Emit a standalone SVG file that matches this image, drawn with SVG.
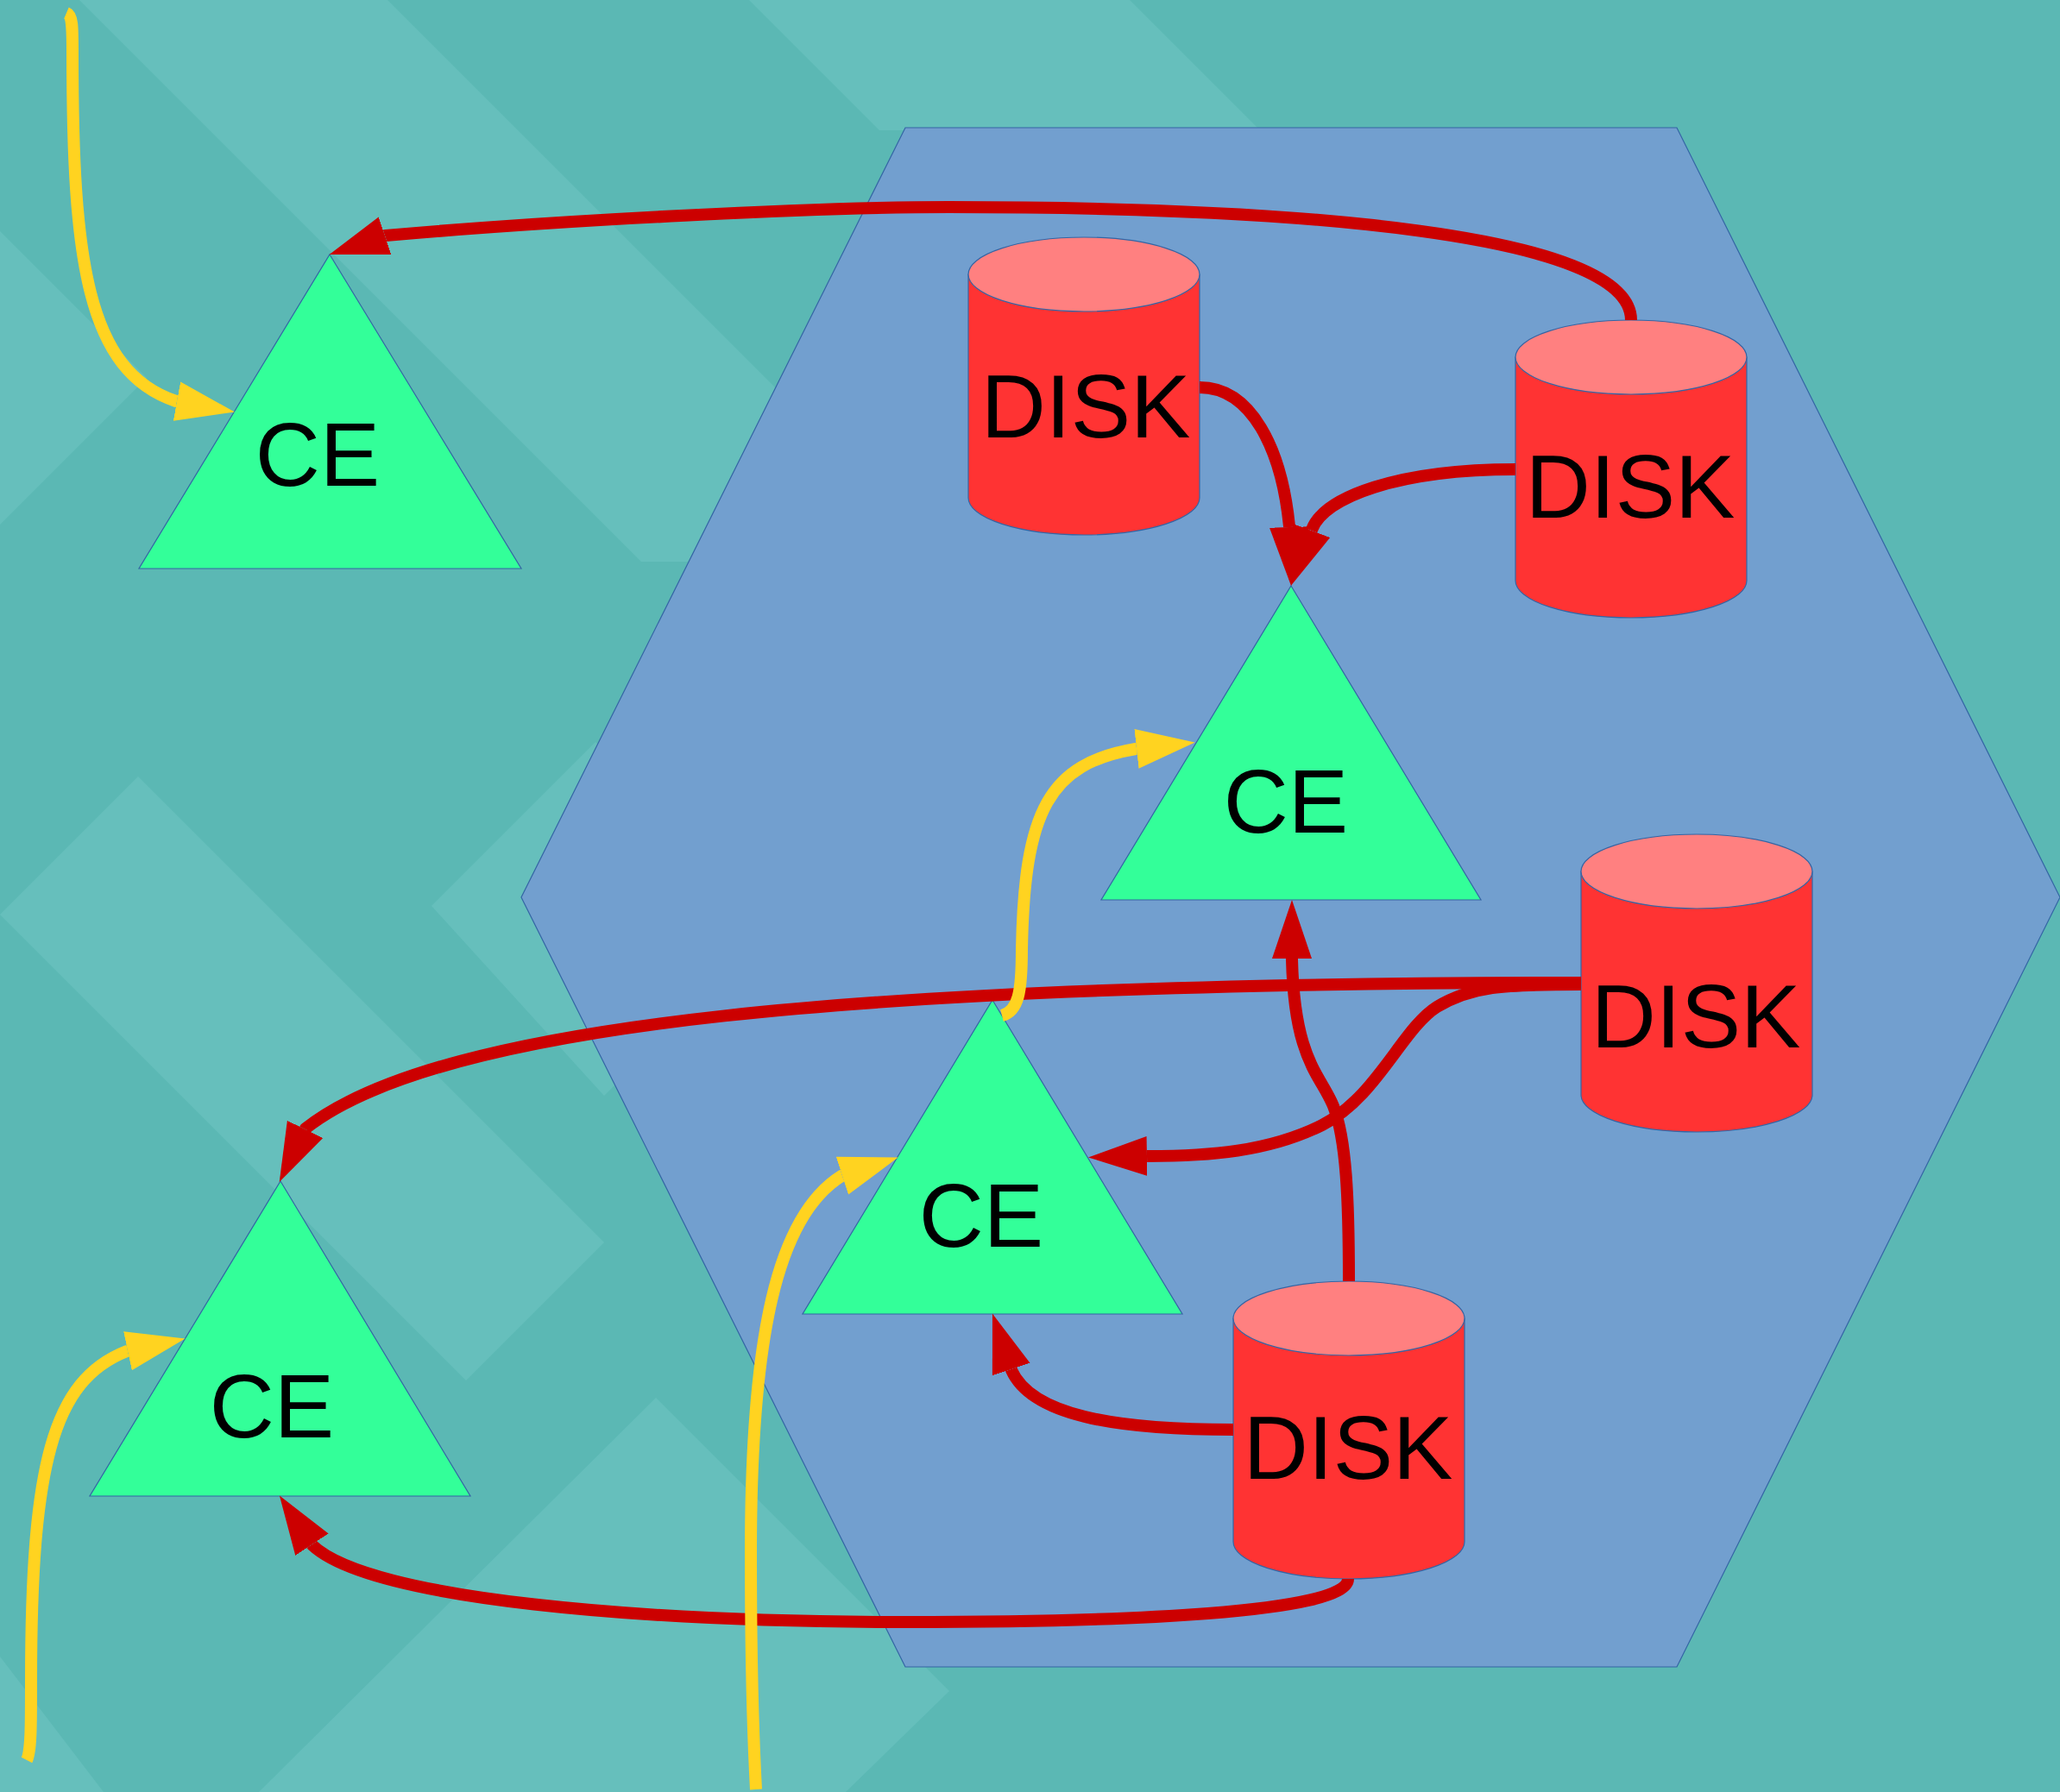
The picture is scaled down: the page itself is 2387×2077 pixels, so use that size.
<svg xmlns="http://www.w3.org/2000/svg" width="2387" height="2077" viewBox="0 0 2387 2077">
<style>
.bg{fill:#5bb8b4}
.bgl{fill:#66bfbc}
.hex{fill:#729fcf;stroke:#3465a4;stroke-width:1.2}
.ce{fill:#33ff99;stroke:#3465a4;stroke-width:1.2}
.body{fill:#ff3333;stroke:#3465a4;stroke-width:1.2}
.top{fill:#ff8080;stroke:#3465a4;stroke-width:1.2}
.lbl{font-family:"Liberation Sans",Arial,sans-serif;font-size:104px;fill:#000;text-anchor:middle}
.red{fill:none;stroke:#cc0000;stroke-width:14;stroke-linejoin:round;marker-end:url(#ar)}
.yel{fill:none;stroke:#ffd320;stroke-width:14;stroke-linejoin:round;marker-end:url(#ay)}
</style>
<defs>
<marker id="ar" markerUnits="userSpaceOnUse" viewBox="0 -25 70 50" refX="0" refY="0" markerWidth="70" markerHeight="50" orient="auto"><path d="M0,-23 L68,0 L0,23 Z" fill="#cc0000"/></marker>
<marker id="ay" markerUnits="userSpaceOnUse" viewBox="0 -25 70 50" refX="0" refY="0" markerWidth="70" markerHeight="50" orient="auto"><path d="M0,-23 L68,0 L0,23 Z" fill="#ffd320"/></marker>
</defs>
<g id="background">
<rect class="bg" x="0" y="0" width="2387" height="2077"/>
<polygon class="bgl" points="92,0 449,0 1100,651 743,651"/>
<polygon class="bgl" points="868,0 1309,0 1460,151 1019,151"/>
<polygon class="bgl" points="0,268 170,438 0,608"/>
<polygon class="bgl" points="0,1060 160,900 700,1440 540,1600"/>
<polygon class="bgl" points="0,1920 120,2077 0,2077"/>
<polygon class="bgl" points="300,2077 760,1620 1100,1960 980,2077"/>
<polygon class="bgl" points="500,1050 690,860 900,1070 700,1270"/>
</g>
<g id="zone"><polygon class="hex" points="1049,148 1943,148 2387,1040 1943,1932 1049,1932 604,1040"/></g>
<g id="ce1"><polygon class="ce" points="382,295 604,659 161,659"/><text class="lbl" x="368" y="563">CE</text></g>
<g id="ce2"><polygon class="ce" points="1496,679 1716,1043 1276,1043"/><text class="lbl" x="1490" y="965">CE</text></g>
<g id="ce3"><polygon class="ce" points="1150,1159 1370,1523 930,1523"/><text class="lbl" x="1137" y="1445">CE</text></g>
<g id="ce4"><polygon class="ce" points="325,1369 545,1734 104,1734"/><text class="lbl" x="315" y="1666">CE</text></g>
<g id="disk1"><path class="body" d="M1122,318 V577 A134,43 0 0 0 1390,577 V318 Z"/><ellipse class="top" cx="1256" cy="318" rx="134" ry="43"/><text class="lbl" x="1258" y="507">DISK</text></g>
<g id="disk2"><path class="body" d="M1756,414 V673 A134,43 0 0 0 2024,673 V414 Z"/><ellipse class="top" cx="1890" cy="414" rx="134" ry="43"/><text class="lbl" x="1889" y="600">DISK</text></g>
<g id="disk3"><path class="body" d="M1832,1010 V1269 A134,43 0 0 0 2100,1269 V1010 Z"/><ellipse class="top" cx="1966" cy="1010" rx="134" ry="43"/><text class="lbl" x="1965" y="1214">DISK</text></g>
<g id="disk4"><path class="body" d="M1429,1528 V1787 A134,43 0 0 0 1697,1787 V1528 Z"/><ellipse class="top" cx="1563" cy="1528" rx="134" ry="43"/><text class="lbl" x="1562" y="1714">DISK</text></g>
<g id="connectors">
<path class="red" d="M1890,371 C1890,270 1500,240 1100,240 C950,240 650,255 447,273 l-0.95,0.32"/>
<path class="red" d="M1390,449 C1450,449 1485,520 1494,610 l0.03,1"/>
<path class="red" d="M1756,544 C1620,544 1534,576 1520,614 l-0.35,0.94"/>
<path class="red" d="M1832,1139 C1000,1139 510,1185 354,1308 l-0.44,0.9"/>
<path class="red" d="M1832,1141 C1740,1141 1705,1143 1665,1167 C1625,1192 1595,1272 1532,1304 C1470,1335 1400,1340 1330,1340 l-1,0.02"/>
<path class="red" d="M1563,1485 C1563,1390 1560,1320 1545,1282 C1530,1245 1500,1230 1497,1112 l0,-1"/>
<path class="red" d="M1429,1657 C1290,1657 1195,1640 1172,1588 l-0.32,-0.95"/>
<path class="red" d="M1562,1830 C1562,1870 1300,1880 1050,1880 C750,1880 430,1855 362,1791 l-0.55,-0.83"/>
<path class="yel" d="M77,15 C84,18 84,30 84,60 C84,300 100,430 204,465 l0.98,0.18"/>
<path class="yel" d="M1161,1177 C1180,1172 1184,1150 1184,1100 C1187,940 1215,885 1316,868 l0.99,-0.11"/>
<path class="yel" d="M31,2040 C36,2030 36,2000 36,1950 C36,1700 60,1600 147,1566 l0.98,-0.21"/>
<path class="yel" d="M876,2074 C872,2000 870,1900 870,1800 C870,1550 900,1410 975,1363 l0.95,-0.31"/>
</g>
</svg>
